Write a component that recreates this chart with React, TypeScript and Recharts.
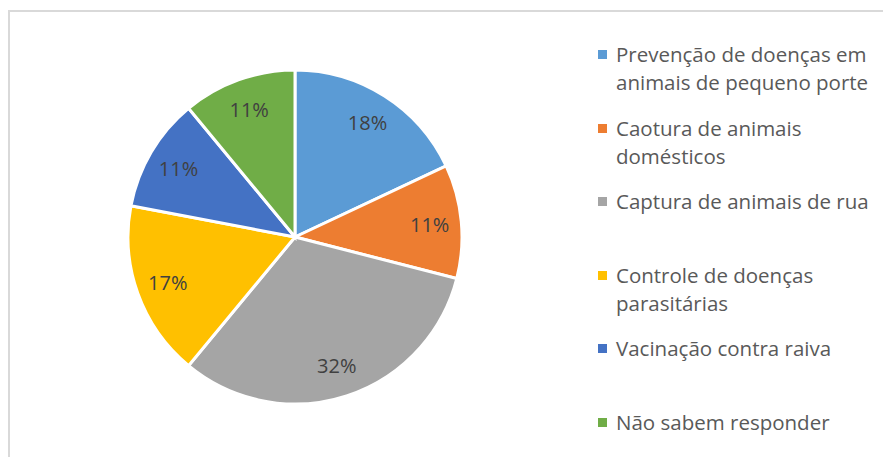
import { PieChart, Pie, Cell, Legend } from 'recharts'

const categories = [
  'Prevenção de doenças em animais de pequeno porte',
  'Caotura de animais domésticos',
  'Captura de animais de rua',
  'Controle de doenças parasitárias',
  'Vacinação contra raiva',
  'Não sabem responder',
]
const values = [18, 11, 32, 17, 11, 11]
const COLORS = ['#5B9BD5', '#ED7D31', '#A5A5A5', '#FFC000', '#4472C4', '#70AD47']

const data = categories.map((name, i) => ({ name, value: values[i] }))

const FONT = '"Open Sans", "Noto Sans", sans-serif'
const RAD = Math.PI / 180

const renderLabel = (p: any) => {
  const r = p.outerRadius * 0.81
  const x = p.cx + r * Math.cos(-p.midAngle * RAD)
  const y = p.cy + r * Math.sin(-p.midAngle * RAD)
  return (
    <text x={x} y={y} fill="#404040" fontSize={20} fontFamily={FONT} textAnchor="middle" dominantBaseline="central">
      {`${Math.round(p.percent * 100)}%`}
    </text>
  )
}

// legend follows data order, not alphabetical
const renderLegend = () => (
  <div style={{ fontFamily: FONT, fontSize: 20.5, color: '#595959' }}>
    {data.map((d, i) => (
      <div key={d.name} style={{ height: 73.6, display: 'flex', alignItems: 'flex-start' }}>
        <div style={{ width: 9, height: 9, background: COLORS[i], marginTop: 10, marginRight: 9, flexShrink: 0 }} />
        <div style={{ lineHeight: '28px', width: 264 }}>{d.name}</div>
      </div>
    ))}
  </div>
)

export default function App() {
  return (
    <div style={{ position: 'absolute', left: 0, top: 0, width: 883, height: 457, overflow: 'hidden', background: '#fff' }}>
      <div style={{ position: 'absolute', left: 8, top: 10, width: 1000, height: 1000, borderTop: '2px solid #d9d9d9', borderLeft: '2px solid #d9d9d9' }} />
      <div style={{ position: 'absolute', left: 0, top: 0 }}>
        <PieChart width={883} height={457} margin={{ top: 0, right: 0, bottom: 0, left: 0 }}>
          <Pie
            data={data}
            dataKey="value"
            nameKey="name"
            cx={295}
            cy={237}
            outerRadius={167}
            startAngle={90}
            endAngle={-270}
            stroke="#fff"
            strokeWidth={3}
            label={renderLabel}
            labelLine={false}
            isAnimationActive={false}
          >
            {data.map((_, i) => <Cell key={i} fill={COLORS[i]} />)}
          </Pie>
          <Legend
            layout="vertical"
            verticalAlign="middle"
            align="right"
            content={renderLegend}
            wrapperStyle={{ left: 598, top: 40, right: 'auto', width: 285 }}
          />
        </PieChart>
      </div>
    </div>
  )
}
